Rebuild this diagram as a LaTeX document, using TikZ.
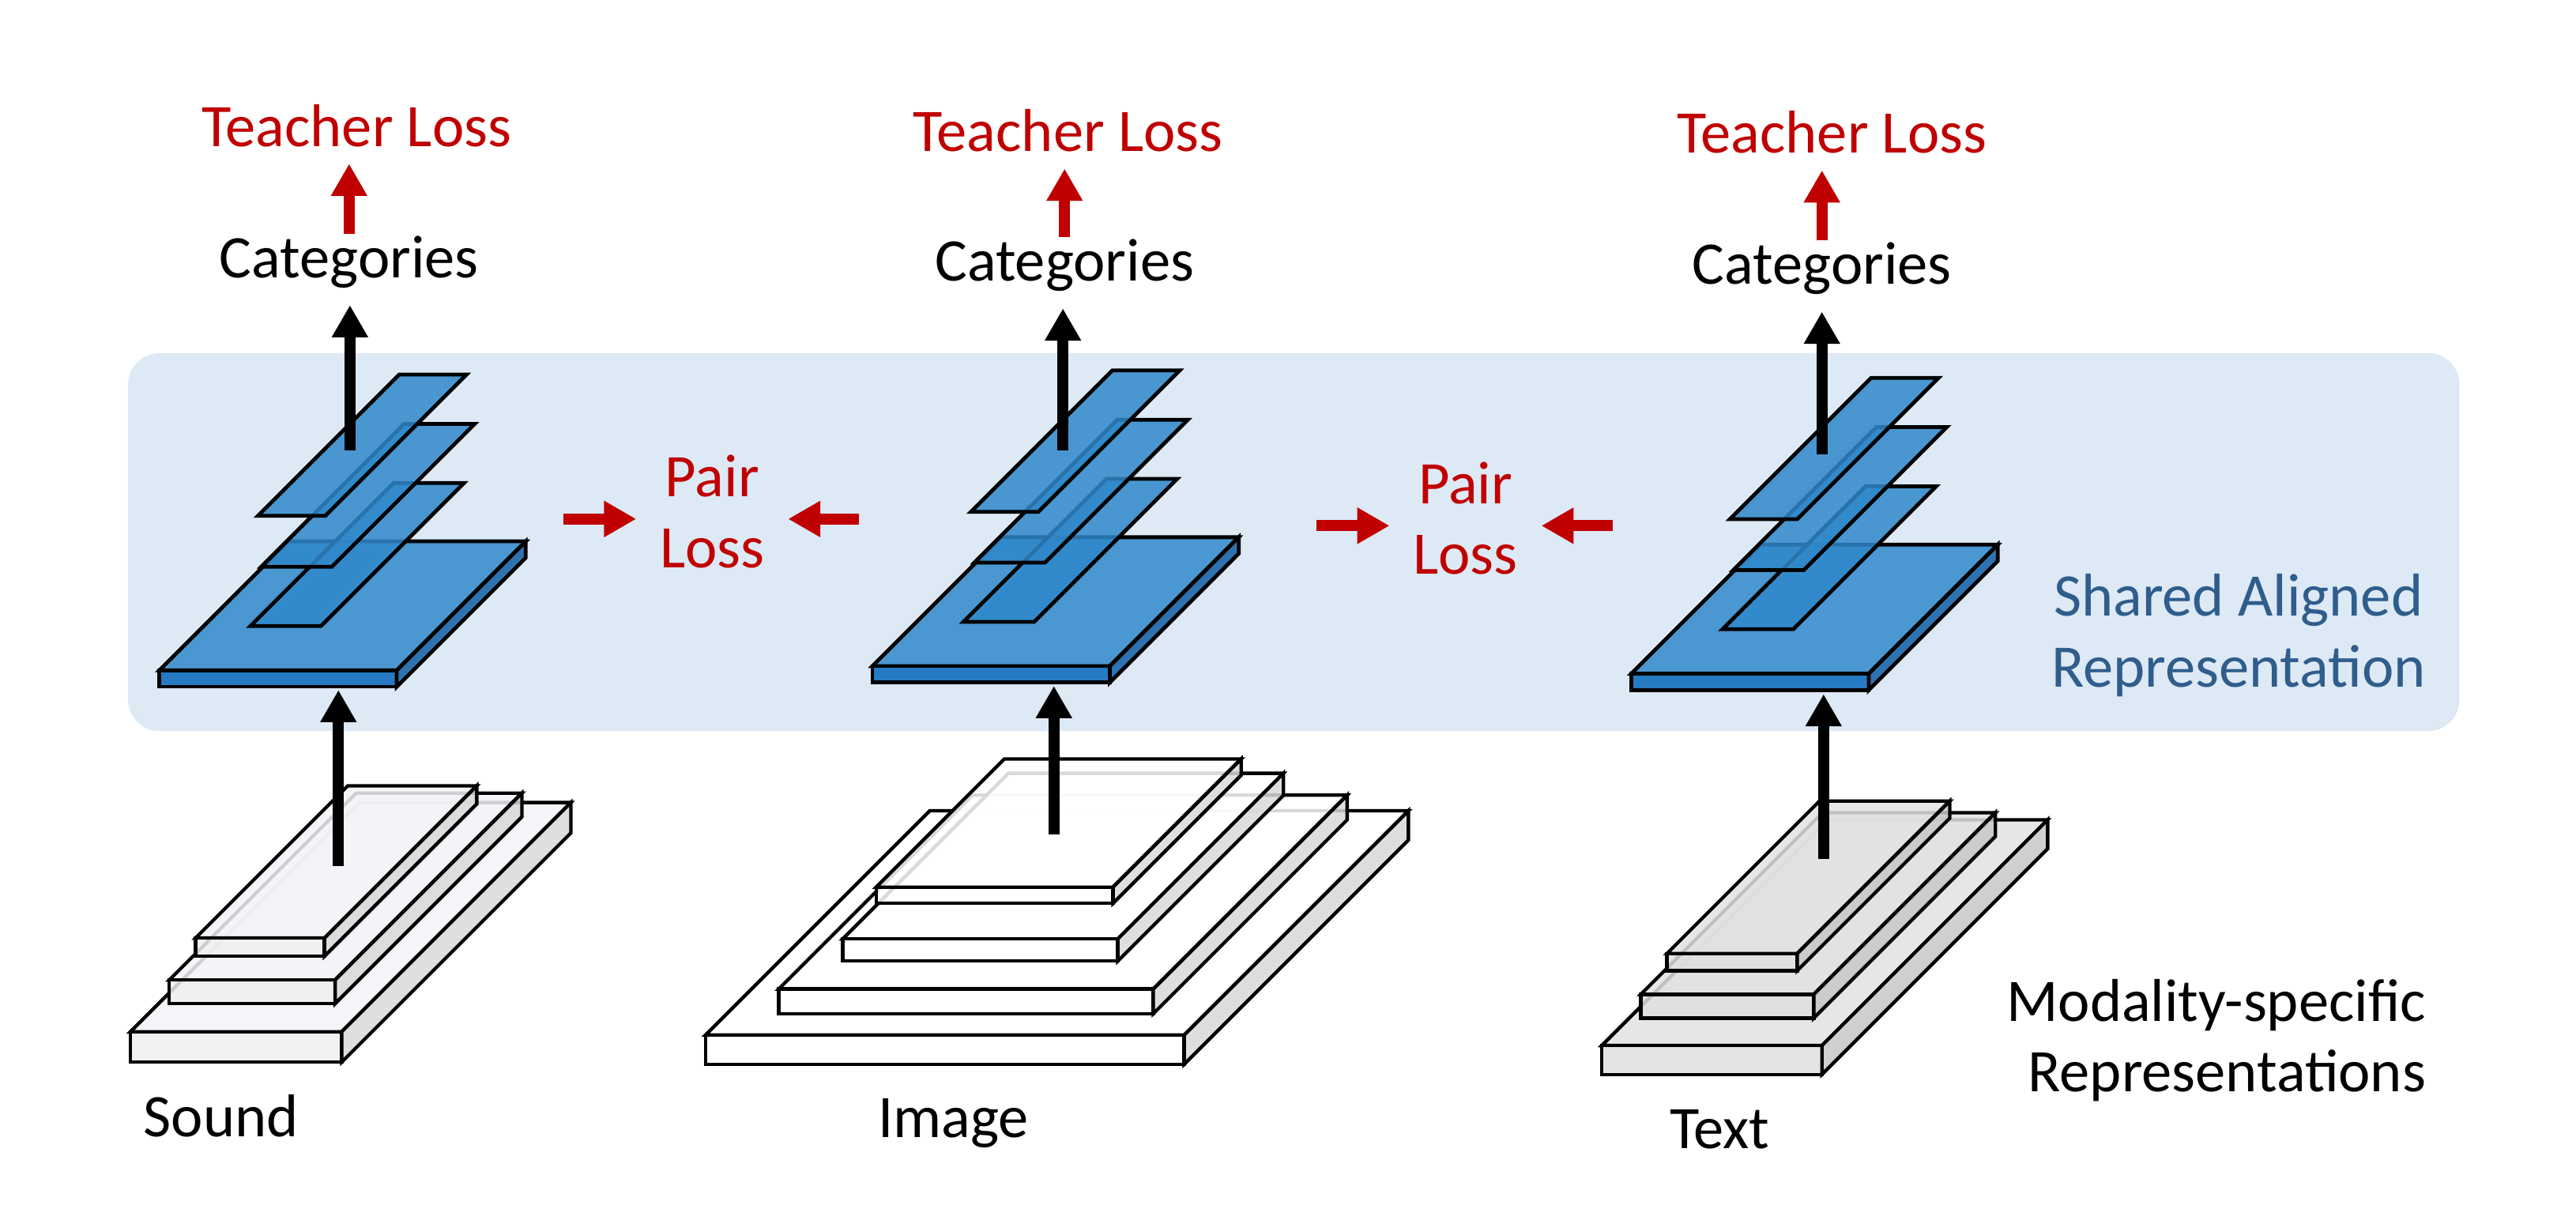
\documentclass[tikz,border=0pt]{standalone}
\usepackage{fontspec}
\setmainfont{Carlito}
\usetikzlibrary{arrows.meta}
\definecolor{bgblue}{HTML}{DDE9F5}
\definecolor{layc}{HTML}{3088CA}
\definecolor{slabtop}{HTML}{4A97D1}
\definecolor{slabfront}{HTML}{267AC4}
\definecolor{slabside}{HTML}{2F72B0}
\definecolor{lossred}{HTML}{C00000}
\definecolor{sharedblue}{HTML}{2F5D8C}
\definecolor{ctop}{HTML}{FFFFFF}
\definecolor{cfront}{HTML}{FFFFFF}
\definecolor{cside}{HTML}{D9D9D9}
\tikzset{
  face/.style={draw=black, line width=1.05pt, line join=miter, fill opacity=0.85},
  thinlayer/.style={draw=black, line width=1.15pt, line join=miter, fill=layc, fill opacity=0.85},
  lbl/.style={inner sep=0pt, font=\fontsize{18.4pt}{21.5pt}\selectfont},
  redlbl/.style={lbl, text=lossred},
  blkarrow/.style={line width=3.4pt, draw=black, -{Triangle[width=10.4pt,length=9.8pt]}},
  redarrow/.style={blkarrow, draw=lossred},
}
\newcommand{\pslab}[5]{%
  \filldraw[face, fill=ctop] (#1,#2) -- ++(#3,0) -- ++(#5,-#5) -- ++(-#3,0) -- cycle;
  \filldraw[face, fill=cfront] (#1,#2) -- ++(#3,0) -- ++(0,#4) -- ++(-#3,0) -- cycle;
  \filldraw[face, fill=cside] (#1+#3,#2) -- ++(#5,-#5) -- ++(0,#4) -- ++(-#5,#5) -- cycle;
}
\newcommand{\thinlay}[4]{%
  \filldraw[thinlayer] (#1,#2) -- ++(#3,0) -- ++(#4,-#4) -- ++(-#3,0) -- cycle;
}
\newcommand{\bluestack}[2]{%
  \begin{scope}[shift={(#1,#2)}]
    \colorlet{ctop}{slabtop}\colorlet{cfront}{slabfront}\colorlet{cside}{slabside}
    \begin{scope}[face/.append style={fill opacity=1, line width=1.15pt}]
      \pslab{97}{408}{144.5}{10}{78.5}
    \end{scope}
    \thinlay{152.5}{381}{43}{87}
    \thinlay{159}{345}{43}{87}
    \thinlay{157}{314}{41}{86}
  \end{scope}}
\begin{document}
\begin{tikzpicture}[x=0.5pt,y=-0.5pt]
  \useasboundingbox (0,0) rectangle (1568,744.6);
  \fill[white] (0,0) rectangle (1568,744.6);
  % shared band
  \fill[bgblue, rounded corners=9.5pt] (78,215) rectangle (1497,445);

  % ---- Sound stack ----
  \begin{scope}
    \definecolor{ctop}{HTML}{F4F3F7}\definecolor{cfront}{HTML}{F0F0F0}\definecolor{cside}{HTML}{D9D9D9}
    \pslab{79.4}{628}{128.6}{18.5}{139.5}
    \pslab{103}{596.5}{101}{14.4}{113.7}
    \pslab{119}{571}{78.5}{11}{92.7}
  \end{scope}
  % ---- Image stack ----
  \begin{scope}
    \definecolor{ctop}{HTML}{FFFFFF}\definecolor{cfront}{HTML}{FFFFFF}\definecolor{cside}{HTML}{D9D9D9}
    \pslab{429.5}{630}{291.3}{17.8}{136.5}
    \pslab{474}{602}{228}{15}{118}
    \pslab{513}{571.5}{167.4}{13.5}{100.8}
    \pslab{533.3}{540}{144.2}{9.8}{78}
  \end{scope}
  % ---- Text stack ----
  \begin{scope}
    \definecolor{ctop}{HTML}{E2E2E2}\definecolor{cfront}{HTML}{E0E0E0}\definecolor{cside}{HTML}{C8C8C8}
    \pslab{975}{636.4}{134}{17.6}{137.4}
    \pslab{998.7}{605.3}{105.3}{14.4}{110.6}
    \pslab{1014.7}{580.4}{79.3}{10.4}{92.8}
  \end{scope}

  % ---- shared aligned layers ----
  \bluestack{0}{0}
  \bluestack{434}{-2.5}
  \bluestack{896}{2}

  % ---- labels ----
  \node[redlbl, anchor=base] (tl1) at (217,89) {Teacher Loss};
  \node[redlbl, anchor=base] (tl2) at (650,92) {Teacher Loss};
  \node[redlbl, anchor=base] (tl3) at (1115,93) {Teacher Loss};
  \node[lbl, anchor=base] (cat1) at (212.5,169) {Categories};
  \node[lbl, anchor=base] (cat2) at (648,171) {Categories};
  \node[lbl, anchor=base] (cat3) at (1109,173) {Categories};

  % multi-line nodes: base anchor sits on the last line
  \node[redlbl, anchor=base, align=center] (pl1) at (433.5,345.4) {Pair\\Loss};
  \node[redlbl, anchor=base, align=center] (pl2) at (892,349.4) {Pair\\Loss};

  \node[lbl, anchor=base, align=center, text=sharedblue] (shared) at (1362.5,418) {Shared Aligned\\Representation};
  \node[lbl, anchor=base east, align=right] (modal) at (1477,664.6) {Modality-specific\\Representations};

  \node[lbl, anchor=base west] (sound) at (87,691.7) {Sound};
  \node[lbl, anchor=base west] (image) at (534,692.6) {Image};
  \node[lbl, anchor=base west] (text) at (1016,699) {Text};

  % ---- connectors ----
  \coordinate (up1) at (213,274);
  \coordinate (up2) at (647,274.2);
  \coordinate (up3) at (1109,276.6);
  \foreach \i in {1,2,3}{
    \draw[blkarrow, shorten >=5pt] (up\i) -- (up\i |- cat\i.south);
    \draw[redarrow, shorten >=5pt, shorten <=0.5pt] (cat\i.north) -- (cat\i.north |- tl\i.south);
  }
  \coordinate (lo1t) at (206,527);   \coordinate (lo1h) at (206,420);
  \coordinate (lo2t) at (641.5,508); \coordinate (lo2h) at (641.5,417.5);
  \coordinate (lo3t) at (1110,522.7);\coordinate (lo3h) at (1110,422.5);
  \draw[blkarrow] (lo1t) -- (lo1h);
  \draw[blkarrow] (lo2t) -- (lo2h);
  \draw[blkarrow] (lo3t) -- (lo3h);

  \coordinate (pa1l) at (343,315.9);  \coordinate (pa1r) at (522.7,315.9);
  \coordinate (pa2l) at (801.5,320);  \coordinate (pa2r) at (981.5,320);
  \draw[redarrow, shorten >=7pt] (pa1l) -- (pa1l -| pl1.west);
  \draw[redarrow, shorten >=7pt] (pa1r) -- (pa1r -| pl1.east);
  \draw[redarrow, shorten >=7pt] (pa2l) -- (pa2l -| pl2.west);
  \draw[redarrow, shorten >=7pt] (pa2r) -- (pa2r -| pl2.east);
\end{tikzpicture}
\end{document}
